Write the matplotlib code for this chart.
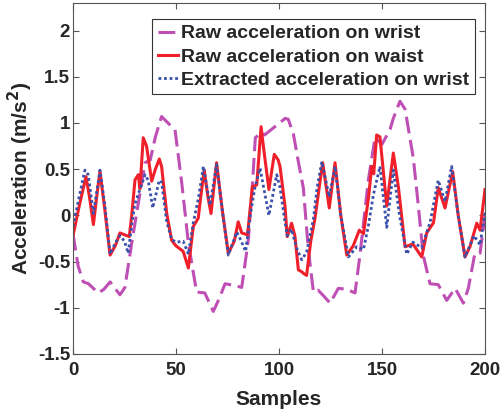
import matplotlib
matplotlib.use("Agg")
import matplotlib.pyplot as plt

# raw acceleration on wrist (dashed magenta)
wrist_x = [0, 2.5, 5, 7.5, 12.3, 15, 18, 22.8, 25.2, 28.5, 31.7, 35, 37.5, 40, 43,
           47, 49.5, 52.8, 56, 60, 64, 68.1, 71, 73.8, 78.6, 81.9, 85.1, 87, 88.5,
           91.6, 93, 98, 103, 104.5, 107, 109.4, 111.8, 114.2, 116.7, 119, 122,
           124.8, 128.8, 132.9, 136.9, 139.3, 143.4, 146.6, 150, 153.9, 155.5,
           158.7, 161.2, 165.2, 167.6, 170, 173.3, 177.3, 181.4, 185.5, 189.5,
           191.9, 195.1, 197.6, 200]
wrist_y = [-0.2, -0.55, -0.72, -0.74, -0.84, -0.8, -0.72, -0.86, -0.78, -0.30,
           0.13, 0.57, 0.6, 0.85, 1.07, 0.98, 0.93, 0.35, -0.30, -0.83, -0.84,
           -1.04, -0.9, -0.74, -0.76, -0.78, -0.27, 0.3, 0.84, 0.9, 0.87, 0.96,
           1.05, 1.04, 0.88, 0.58, 0.30, -0.36, -0.83, -0.81, -0.88, -0.95, -0.79,
           -0.80, -0.84, -0.43, 0.385, 0.84, 0.77, 0.93, 1.05, 1.235, 1.15, 0.62,
           0.11, -0.43, -0.74, -0.75, -0.92, -0.79, -0.95, -0.79, -0.41, -0.41, 0.0]

# raw acceleration on waist (solid red)
waist_x = [0, 3, 6.3, 8, 9.9, 11.5, 13.1, 15.5, 18, 20.5, 22.8, 25, 27.3, 28.5,
           30.1, 31.7, 32.5, 34.1, 35.7, 38.2, 40, 41.9, 43, 45.5, 47.9, 50, 53.5,
           56, 58.4, 60.8, 62, 63.7, 65.5, 67, 69.7, 72.5, 75.4, 78.3, 80.2, 81.9,
           84.7, 87.1, 89.2, 91.3, 92.4, 95.1, 97.7, 99.6, 100.5, 102.9, 104,
           106.1, 107.7, 109.4, 111, 112, 113.4, 115.4, 117.5, 119.5, 121.2, 124.4,
           127.2, 130, 132.9, 136, 139, 141, 143.5, 145, 146, 147.4, 149, 152.3,
           155.5, 158, 161.2, 165, 169.3, 171.7, 175, 177.3, 180.6, 184.3, 187,
           190.3, 192.7, 196, 197.6, 200]
waist_y = [-0.22, 0.1, 0.42, 0.2, -0.10, 0.2, 0.475, 0.05, -0.43, -0.33, -0.19,
           -0.21, -0.23, 0.0, 0.385, 0.44, 0.29, 0.84, 0.75, 0.37, 0.5, 0.61, 0.53,
           0.02, -0.27, -0.33, -0.39, -0.57, -0.12, -0.03, 0.2, 0.49, 0.2, 0.02,
           0.57, 0.05, -0.41, -0.28, -0.07, -0.19, -0.21, 0.31, 0.33, 0.96, 0.75,
           0.28, 0.66, 0.60, 0.53, 0.10, -0.23, -0.085, -0.22, -0.59, -0.61, -0.63,
           -0.65, -0.28, -0.03, 0.3, 0.57, 0.08, 0.57, 0.0, -0.43, -0.33, -0.16,
           -0.20, 0.2, 0.53, 0.45, 0.87, 0.85, 0.10, 0.675, 0.3, -0.34, -0.31,
           -0.45, -0.19, -0.08, 0.30, 0.08, 0.475, 0.0, -0.45, -0.34, -0.085,
           -0.16, 0.28]

# extracted acceleration on wrist (dotted blue)
extr_x = [0, 3, 5.8, 7.4, 9.9, 11.5, 13.1, 15.5, 18, 20.5, 22.8, 25, 26.8, 28.5,
          30, 32, 35, 36.5, 38.7, 41.9, 43, 45.5, 47.9, 50, 53.5, 56, 58.4, 61,
          63.3, 66.5, 69.7, 72.5, 75.4, 79.5, 81.5, 83.8, 86, 88.3, 90.8, 93,
          95.1, 98.9, 100.5, 102.9, 104, 106.1, 108.5, 111, 113.4, 116.7, 118.5,
          120.8, 124.4, 127.2, 130, 133.7, 137.7, 141, 143.5, 145.8, 149, 152.3,
          155.5, 158.5, 162, 165, 169.3, 173.4, 177.3, 180.6, 183.8, 187, 190.3,
          194.7, 197.6, 200]
extr_y = [-0.12, 0.2, 0.49, 0.44, 0.02, 0.25, 0.49, 0.1, -0.42, -0.3, -0.22,
          -0.28, -0.41, -0.1, 0.12, 0.25, 0.44, 0.38, 0.08, 0.38, 0.36, -0.07,
          -0.26, -0.29, -0.28, -0.42, -0.08, 0.2, 0.53, 0.11, 0.55, 0.05, -0.43,
          -0.18, -0.27, -0.39, 0.0, 0.30, 0.51, 0.25, 0.0, 0.44, 0.3, -0.07,
          -0.22, -0.15, -0.35, -0.48, -0.40, -0.04, 0.3, 0.58, 0.20, 0.53, 0.0,
          -0.45, -0.34, -0.37, -0.1, 0.22, 0.53, -0.13, 0.49, 0.0, -0.42, -0.29,
          -0.35, -0.07, 0.38, 0.15, 0.53, 0.0, -0.45, -0.22, -0.32, 0.03]

yticks = [-1.5, -1, -0.5, 0, 0.5, 1, 1.5, 2]
ytick_labels = ["-1.5", "-1", "-0.5", "0", "0.5", "1", "1.5", "2"]
xticks = [0, 50, 100, 150, 200]

plt.rcParams['font.family'] = ['Liberation Sans', 'DejaVu Sans']
plt.rcParams['font.weight'] = 'bold'
plt.rcParams['axes.unicode_minus'] = False

fig = plt.figure(figsize=(5, 4.13), dpi=100)
ax = fig.add_axes([0.146, 0.143, 0.824, 0.850])

ax.plot(wrist_x, wrist_y, color='#bf4fb4', lw=2.2, ls=(0, (5.5, 2.2)),
        label='Raw acceleration on wrist')
ax.plot(waist_x, waist_y, color='#f0202a', lw=2.2,
        label='Raw acceleration on waist')
ax.plot(extr_x, extr_y, color='#3a50aa', lw=2.0, ls=(0, (1, 1)),
        label='Extracted acceleration on wrist')

ax.set_xlim(0, 200)
ax.set_ylim(-1.5, 2.3)
ax.set_xticks(xticks)
ax.set_yticks(yticks)
ax.set_yticklabels(ytick_labels)

gray = '#262626'
for s in ax.spines.values():
    s.set_color('#555555')
    s.set_linewidth(0.8)
ax.tick_params(direction='in', top=True, right=True, length=4, width=0.8,
               colors='#555555', labelcolor=gray, labelsize=13.5, pad=2)
ax.tick_params(axis='x', pad=6)

ax.set_xlabel('Samples', fontsize=15, fontweight='bold', color=gray, labelpad=8)
ax.set_ylabel('Acceleration (m/s$^\\mathbf{2}$)', fontsize=15, fontweight='bold',
              color=gray, labelpad=2)

leg = ax.legend(loc='upper right', bbox_to_anchor=(0.976, 0.954), fontsize=14,
                frameon=True, fancybox=False, framealpha=1, borderpad=0.3,
                labelspacing=0.28, handlelength=1.05, handletextpad=0.15,
                borderaxespad=0)
leg.get_frame().set_edgecolor('#333333')
leg.get_frame().set_linewidth(0.8)
for t in leg.get_texts():
    t.set_color(gray)

fig.savefig('out.png', dpi=100)
